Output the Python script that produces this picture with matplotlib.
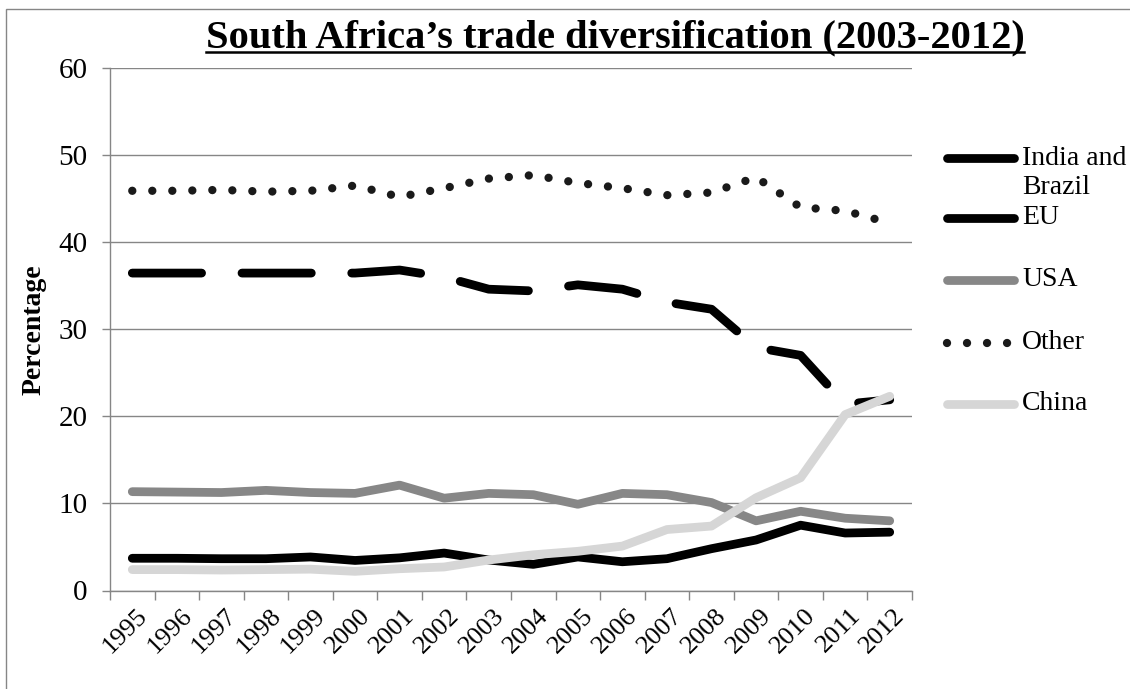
import matplotlib
matplotlib.use('Agg')
import matplotlib.pyplot as plt
from matplotlib.lines import Line2D
from matplotlib.patches import Rectangle
import matplotlib.transforms as mtransforms
import numpy as np

# ---------------- data ----------------
years = [str(y) for y in range(1995, 2013)]
india_brazil = [3.7, 3.7, 3.65, 3.65, 3.85, 3.45, 3.75, 4.3, 3.5, 3.0, 3.85, 3.3, 3.65, 4.8, 5.8, 7.5, 6.6, 6.7]
eu = [36.45, 36.45, 36.45, 36.45, 36.45, 36.45, 36.8, 36.0, 34.6, 34.4, 35.1, 34.6, 33.1, 32.3, 27.9, 27.0, 21.4, 21.9]
usa = [11.35, 11.3, 11.25, 11.5, 11.25, 11.15, 12.1, 10.6, 11.15, 11.0, 9.9, 11.15, 11.0, 10.1, 8.0, 9.1, 8.3, 8.0]
other = [45.9, 45.9, 46.0, 45.8, 45.9, 46.5, 45.2, 46.2, 47.3, 47.7, 46.8, 46.2, 45.4, 45.7, 47.45, 44.0, 43.6, 42.2]
china = [2.4, 2.4, 2.35, 2.4, 2.45, 2.2, 2.5, 2.7, 3.5, 4.1, 4.5, 5.1, 7.0, 7.4, 10.65, 12.95, 20.2, 22.3]
series_names = ['India and\nBrazil', 'EU', 'USA', 'Other', 'China']
y_ticks = [0, 10, 20, 30, 40, 50, 60]
title = 'South Africa\u2019s trade diversification (2003-2012)'
y_label = 'Percentage'

# ---------------- style ----------------
plt.rcParams['font.family'] = ['Liberation Serif', 'DejaVu Serif']
plt.rcParams['lines.scale_dashes'] = False
W, H = 1130, 689
DPI = 100
GRAY = '#868686'
fig = plt.figure(figsize=(W / DPI, H / DPI), dpi=DPI)

ax = fig.add_axes([110 / W, 1 - 590.5 / H, (912 - 110) / W, (590.5 - 68) / H])
x = np.arange(len(years))

LW = 6.3
common = dict(solid_capstyle='round', dash_capstyle='round', solid_joinstyle='round', dash_joinstyle='round')
styles = [
    dict(color='black', lw=LW, ls='-'),
    dict(color='black', lw=LW, ls=(0, (49.9, 29.1))),
    dict(color='#878787', lw=LW, ls='-'),
    dict(color='#1a1a1a', lw=6.0, ls=(0, (0.01, 14.4))),
    dict(color='#d6d6d6', lw=LW, ls='-'),
]
data = [india_brazil, eu, usa, other, china]
for vals, st, name in zip(data, styles, series_names):
    ax.plot(x, vals, label=name, zorder=3, **st, **common)

ax.set_xlim(-0.5, len(years) - 0.5)
ax.set_ylim(0, 60)
ax.set_yticks(y_ticks)
ax.yaxis.grid(True, color=GRAY, lw=1.0)
ax.set_axisbelow(True)
for s in ['top', 'right']:
    ax.spines[s].set_visible(False)
for s in ['left', 'bottom']:
    ax.spines[s].set_color(GRAY)
    ax.spines[s].set_linewidth(1.0)

ax.tick_params(axis='y', length=5.8, width=1.0, color=GRAY, pad=10.5, labelsize=21)
ax.set_xticks(x)
ax.set_xticklabels(years, rotation=45, ha='right', va='top', rotation_mode='anchor', fontsize=19)
ax.tick_params(axis='x', which='major', length=0, pad=10)
ax.set_xticks(np.arange(-0.5, len(years), 1), minor=True)
ax.tick_params(axis='x', which='minor', length=6.3, width=1.0, color=GRAY, direction='out')
off = mtransforms.ScaledTranslation(4 / DPI, 0, fig.dpi_scale_trans)
for lab in ax.get_xticklabels():
    lab.set_transform(lab.get_transform() + off)

# y label
fig.text(34 / W, 1 - 330 / H, y_label, rotation=90, ha='center', va='center',
         fontweight='bold', fontsize=20)

# title with underline
renderer = fig.canvas.get_renderer()
t = fig.text(615 / W, 1 - 47 / H, title, ha='center', va='baseline', fontweight='bold', fontsize=20)
bb = t.get_window_extent(renderer)
t.set_fontsize(20 * 820 / bb.width)
bb = t.get_window_extent(renderer)
uy = 1 - 51.5 / H
fig.add_artist(Line2D([bb.x0 / W, bb.x1 / W], [uy, uy], transform=fig.transFigure,
                      color='black', lw=1.8))

# outer border
fig.add_artist(Rectangle((6.4 / W, -0.1), 1.2, 1 - 9 / H + 0.1, transform=fig.transFigure,
                         fill=False, ec=GRAY, lw=1.0))

# legend (manual)
leg_y = [158, 218, 280, 343, 404]
for name, st, ly in zip(series_names, styles, leg_y):
    yy = 1 - ly / H
    fig.add_artist(Line2D([947 / W, 1014 / W], [yy, yy], transform=fig.transFigure, **st, **common))
    if '\n' in name:
        fig.text(1022 / W, 1 - (ly + 15) / H, name, ha='left', va='center', fontsize=20,
                 linespacing=1.25)
    else:
        fig.text(1022 / W, yy, name, ha='left', va='center', fontsize=20)

fig.savefig('out.png', dpi=DPI)
